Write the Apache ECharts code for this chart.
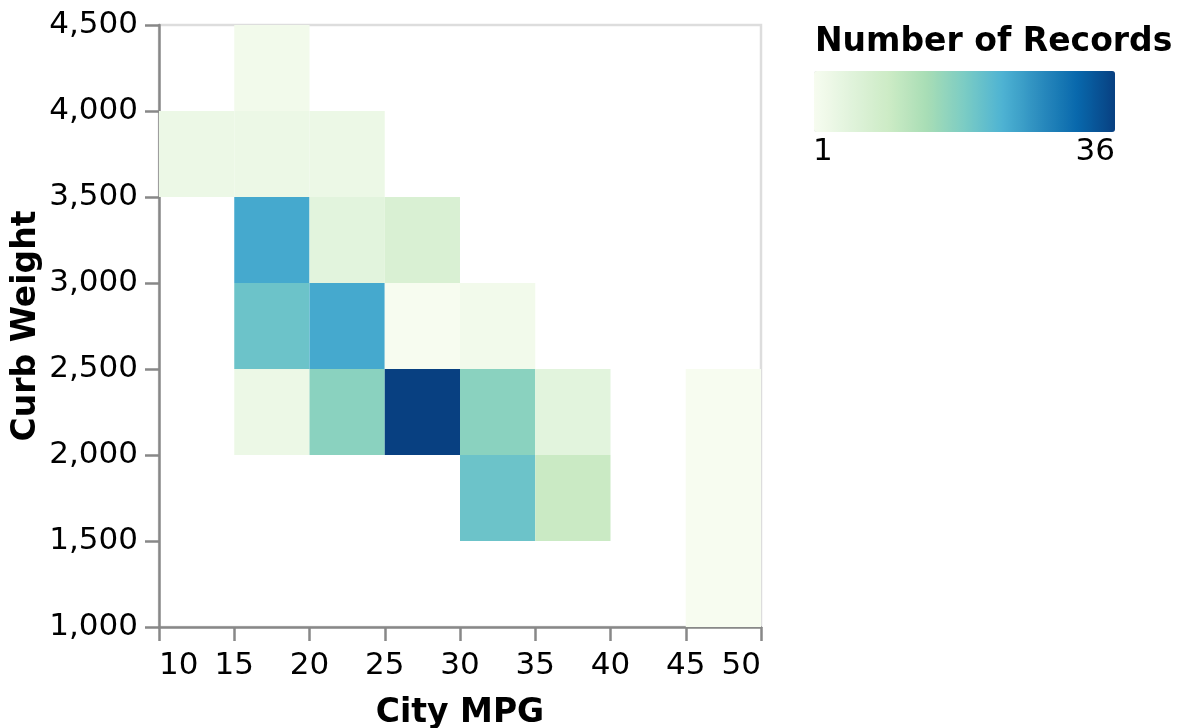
<!DOCTYPE html>
<html>
<head>
<meta charset="utf-8">
<script src="https://cdn.jsdelivr.net/npm/echarts@6/dist/echarts.min.js"></script>
<style>
  html, body { margin: 0; padding: 0; background: #fff; }
  #chart { width: 1177px; height: 728px; }
</style>
</head>
<body>
<div id="chart"></div>
<script>
// Binned cells: City MPG bin [start, end], Curb Weight bin [start, end], count
const mpgStart    = [15, 10, 15, 20, 15, 20, 25, 15, 20, 25, 30, 15, 20, 25, 30, 35, 30, 35, 45];
const mpgEnd      = [20, 15, 20, 25, 20, 25, 30, 20, 25, 30, 35, 20, 25, 30, 35, 40, 35, 40, 50];
const weightStart = [4000, 3500, 3500, 3500, 3000, 3000, 3000, 2500, 2500, 2500, 2500, 2000, 2000, 2000, 2000, 2000, 1500, 1500, 1000];
const weightEnd   = [4500, 4000, 4000, 4000, 3500, 3500, 3500, 3000, 3000, 3000, 3000, 2500, 2500, 2500, 2500, 2500, 2000, 2000, 2500];
const records     = [2, 3, 3, 3, 24, 5, 7, 20, 24, 1, 2, 3, 17, 36, 17, 5, 20, 10, 1];

const xTicks = { min: 10, max: 50, interval: 5 };
const yTicks = { min: 1000, max: 4500, interval: 500 };

const gnbu = ['#f7fcf0', '#e0f3db', '#ccebc5', '#a8ddb5', '#7bccc4', '#4eb3d3', '#2b8cbe', '#0868ac', '#084081'];

const cells = records.map((c, i) => [mpgStart[i], mpgEnd[i], weightStart[i], weightEnd[i], c]);
const cMin = Math.min(...records);
const cMax = Math.max(...records);

const FONT = 'DejaVu Sans';
const chart = echarts.init(document.getElementById('chart'), null, { renderer: 'canvas' });

chart.setOption({
  animation: false,
  backgroundColor: '#fff',
  title: {
    text: 'Number of Records',
    left: 810,
    top: 21,
    textStyle: { fontFamily: FONT, fontSize: 33, fontWeight: 'bold', color: '#000' }
  },
  grid: {
    left: 159, top: 25, width: 602, height: 602,
    containLabel: false,
    outerBoundsMode: 'none',
    show: true, borderColor: '#dddddd', borderWidth: 2.5, backgroundColor: 'transparent'
  },
  xAxis: {
    type: 'value',
    min: xTicks.min, max: xTicks.max, interval: xTicks.interval,
    name: 'City MPG',
    nameLocation: 'middle',
    nameGap: 70,
    nameMoveOverlap: false,
    nameTextStyle: { fontFamily: FONT, fontSize: 33, fontWeight: 'bold', color: '#000' },
    axisLine: { show: true, lineStyle: { color: '#888', width: 2.5 } },
    axisTick: { show: true, length: 14, lineStyle: { color: '#888', width: 2.5 } },
    axisLabel: {
      fontFamily: FONT, fontSize: 31, color: '#000', margin: 23,
      alignMinLabel: 'left', alignMaxLabel: 'right'
    },
    splitLine: { show: false }
  },
  yAxis: {
    type: 'value',
    min: yTicks.min, max: yTicks.max, interval: yTicks.interval,
    name: 'Curb Weight',
    nameLocation: 'middle',
    nameGap: 116,
    nameRotate: 90,
    nameMoveOverlap: false,
    nameTextStyle: { fontFamily: FONT, fontSize: 33, fontWeight: 'bold', color: '#000' },
    axisLine: { show: true, lineStyle: { color: '#888', width: 2.5 } },
    axisTick: { show: true, length: 14, lineStyle: { color: '#888', width: 2.5 } },
    axisLabel: {
      fontFamily: FONT, fontSize: 31, color: '#000', margin: 21,
      formatter: v => v.toLocaleString('en-US')
    },
    splitLine: { show: false }
  },
  visualMap: {
    type: 'continuous',
    seriesIndex: 0,
    dimension: 4,
    min: cMin,
    max: cMax,
    orient: 'horizontal',
    left: 814,
    top: 71,
    itemWidth: 61,
    itemHeight: 301,
    calculable: false,
    hoverLink: false,
    text: null,
    showLabel: false,
    padding: 0,
    inRange: { color: gnbu }
  },
  graphic: [
    {
      type: 'text', left: 813, top: 136,
      style: { text: String(cMin), font: '31px "DejaVu Sans"', fill: '#000' }
    },
    {
      type: 'text', right: 1177 - 1115, top: 136,
      style: { text: String(cMax), font: '31px "DejaVu Sans"', fill: '#000' }
    }
  ],
  series: [{
    type: 'custom',
    data: cells,
    encode: { x: [0, 1], y: [2, 3] },
    renderItem: function (params, api) {
      const p0 = api.coord([api.value(0), api.value(3)]);
      const p1 = api.coord([api.value(1), api.value(2)]);
      return {
        type: 'rect',
        shape: { x: p0[0], y: p0[1], width: p1[0] - p0[0], height: p1[1] - p0[1] },
        style: { fill: api.visual('color') }
      };
    }
  }]
});
</script>
</body>
</html>
